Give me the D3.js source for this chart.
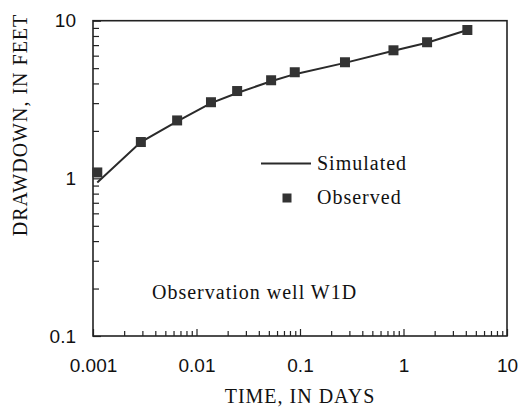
<!DOCTYPE html>
<html>
<head>
<meta charset="utf-8">
<script src="https://cdn.jsdelivr.net/npm/d3@7"></script>
<style>
  body { margin: 0; background: #fff; }
  .serif { font-family: "Liberation Serif", "Times New Roman", serif; font-size: 20px; letter-spacing: 1px; fill: #111; }
  .tick text { font-family: "Liberation Sans", Arial, sans-serif; font-size: 19px; fill: #111; }
</style>
</head>
<body>
<svg id="chart" width="522" height="415"></svg>
<script>
// values
const times = [0.0011, 0.0029, 0.0065, 0.0138, 0.0247, 0.0526, 0.089, 0.272, 0.80, 1.69, 4.14];
const observed = [1.09, 1.70, 2.33, 3.04, 3.58, 4.19, 4.71, 5.45, 6.49, 7.30, 8.73];
const simulated = [0.94, 1.70, 2.30, 3.00, 3.48, 4.13, 4.58, 5.40, 6.45, 7.25, 8.73];
const xTicks = [0.001, 0.01, 0.1, 1, 10];
const xTickLabels = ['0.001', '0.01', '0.1', '1', '10'];
const yTicks = [0.1, 1, 10];
const yTickLabels = ['0.1', '1', '10'];

const plotLeft = 93, plotRight = 507, plotTop = 20.7, plotBottom = 336;

const svg = d3.select('#chart');

const x = d3.scaleLog().domain([0.001, 10]).range([plotLeft, plotRight]);
const y = d3.scaleLog().domain([0.1, 10]).range([plotBottom, plotTop]);

// minor ticks at 2..9 of each decade
const minorOf = (lo, hi) => {
  const out = [];
  for (let p = lo; p < hi; p++) {
    for (let k = 2; k <= 9; k++) out.push(k * Math.pow(10, p));
  }
  return out;
};

// x axis (ticks point inward)
svg.append('g')
  .attr('transform', `translate(0,${plotBottom})`)
  .call(d3.axisBottom(x).tickValues(minorOf(-3, 1)).tickSize(-5).tickFormat(''))
  .call(g => g.select('.domain').remove());

svg.append('g')
  .attr('transform', `translate(0,${plotBottom})`)
  .call(d3.axisBottom(x).tickValues(xTicks).tickSize(-7).tickPadding(23)
    .tickFormat((d, i) => xTickLabels[i]))
  .call(g => g.select('.domain').remove());

// y axis
svg.append('g')
  .attr('transform', `translate(${plotLeft},0)`)
  .call(d3.axisLeft(y).tickValues(minorOf(-1, 1)).tickSize(-6).tickFormat(''))
  .call(g => g.select('.domain').remove());

svg.append('g')
  .attr('transform', `translate(${plotLeft},0)`)
  .call(d3.axisLeft(y).tickValues(yTicks).tickSize(-8).tickPadding(17)
    .tickFormat((d, i) => yTickLabels[i]))
  .call(g => g.select('.domain').remove());

svg.selectAll('.tick line').attr('stroke', '#222').attr('stroke-width', 1.2);

// frame
svg.append('rect')
  .attr('x', plotLeft).attr('y', plotTop)
  .attr('width', plotRight - plotLeft).attr('height', plotBottom - plotTop)
  .attr('fill', 'none').attr('stroke', '#222').attr('stroke-width', 1.6);

// simulated curve
const line = d3.line()
  .x((d, i) => x(times[i]))
  .y(d => y(d));

svg.append('path')
  .datum(simulated)
  .attr('d', line)
  .attr('fill', 'none')
  .attr('stroke', '#2a2a2a')
  .attr('stroke-width', 2);

// observed points
const sq = 10;
svg.append('g')
  .selectAll('rect')
  .data(observed)
  .enter()
  .append('rect')
  .attr('x', (d, i) => x(times[i]) - sq / 2)
  .attr('y', d => y(d) - sq / 2)
  .attr('width', sq).attr('height', sq)
  .attr('fill', '#333');

// legend
svg.append('line')
  .attr('x1', 261).attr('x2', 311).attr('y1', 163.5).attr('y2', 163.5)
  .attr('stroke', '#2a2a2a').attr('stroke-width', 2);
svg.append('text').attr('class', 'serif').attr('x', 317).attr('y', 170).text('Simulated');
svg.append('rect')
  .attr('x', 287 - 4.5).attr('y', 198 - 4.5).attr('width', 9).attr('height', 9)
  .attr('fill', '#333');
svg.append('text').attr('class', 'serif').attr('x', 317).attr('y', 204).text('Observed');

svg.append('text').attr('class', 'serif').attr('x', 152).attr('y', 299).text('Observation well W1D');

// axis titles
svg.append('text').attr('class', 'serif')
  .attr('x', (plotLeft + plotRight) / 2).attr('y', 403)
  .attr('text-anchor', 'middle')
  .text('TIME, IN DAYS');

svg.append('text').attr('class', 'serif')
  .attr('transform', 'translate(27,125) rotate(-90)')
  .attr('text-anchor', 'middle')
  .text('DRAWDOWN, IN FEET');
</script>
</body>
</html>
